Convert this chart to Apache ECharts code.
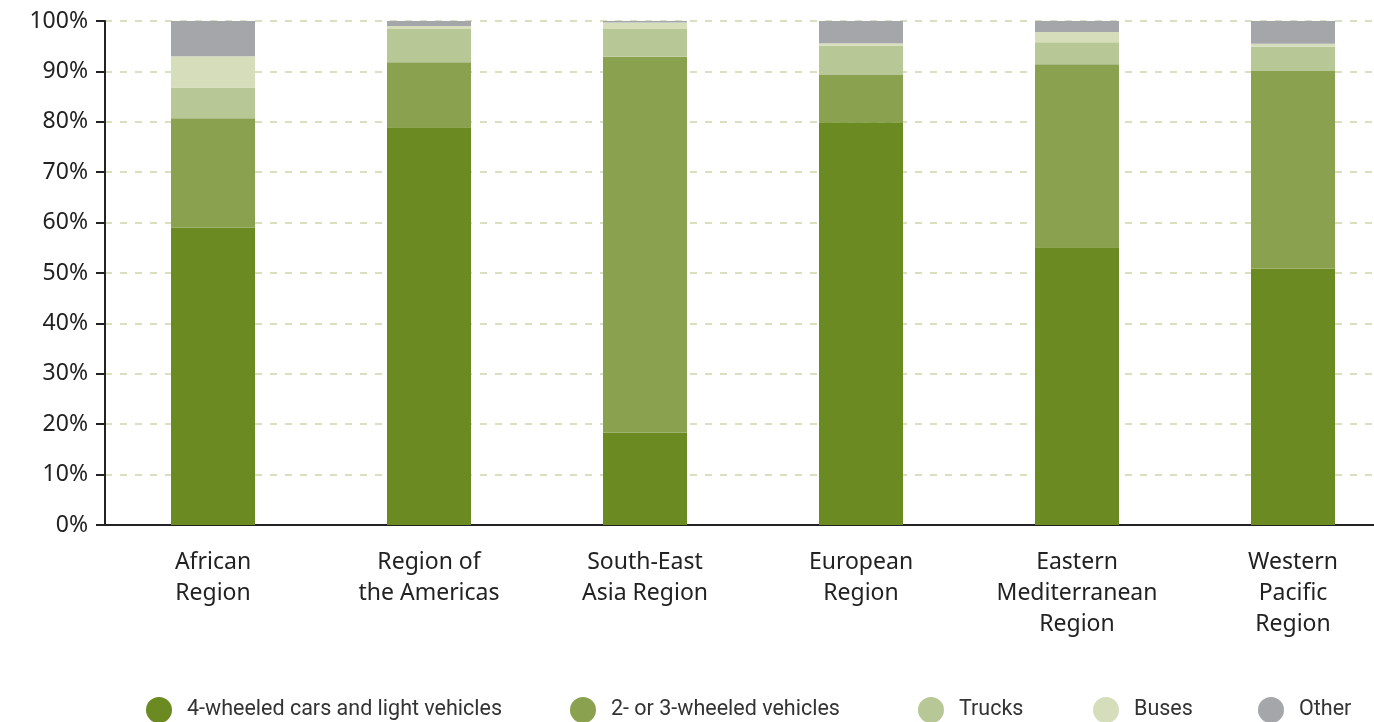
<!DOCTYPE html>
<html>
<head>
<meta charset="utf-8">
<script src="https://cdn.jsdelivr.net/npm/echarts@6/dist/echarts.min.js"></script>
<style>html,body{margin:0;padding:0;background:#fff}#c{width:1374px;height:722px}</style>
</head>
<body>
<div id="c"></div>
<script>
const categories = ["African\nRegion", "Region of\nthe Americas", "South-East\nAsia Region", "European\nRegion", "Eastern\nMediterranean\nRegion", "Western\nPacific\nRegion"];
const seriesNames = ["4-wheeled cars and light vehicles", "2- or 3-wheeled vehicles", "Trucks", "Buses", "Other"];
const fourWheeled = [59.0, 78.9, 18.3, 79.9, 55.1, 50.9];
const twoThreeWheeled = [21.7, 12.9, 74.6, 9.4, 36.3, 39.2];
const trucks = [6.1, 6.6, 5.5, 5.8, 4.4, 4.8];
const buses = [6.2, 0.6, 1.3, 0.5, 2.0, 0.6];
const other = [7.0, 1.0, 0.3, 4.4, 2.2, 4.5];
const yTicks = [0, 10, 20, 30, 40, 50, 60, 70, 80, 90, 100];

const colors = ["#6b8a22", "#8aa14f", "#b8c796", "#d5ddbb", "#a5a6a9"];
const values = [fourWheeled, twoThreeWheeled, trucks, buses, other];
const legendCenters = [154, 578, 926, 1101, 1266];

const chart = echarts.init(document.getElementById('c'));
chart.setOption({
  animation: false,
  backgroundColor: '#fff',
  grid: { left: 105, top: 21, bottom: 197, right: -27, containLabel: false, outerBoundsMode: 'none' },
  legend: seriesNames.map((n, i) => ({
    data: [n],
    left: legendCenters[i] - 13,
    top: 692,
    icon: 'circle',
    itemWidth: 26,
    itemHeight: 26,
    textStyle: { fontFamily: 'Roboto', fontSize: 21.5, color: '#333', padding: [0, 0, 0, 10] },
    selectedMode: false
  })),
  xAxis: {
    type: 'category',
    data: categories,
    axisLine: { lineStyle: { color: '#222', width: 2 } },
    axisTick: { show: false },
    axisLabel: { fontFamily: 'Noto Sans', fontSize: 23, color: '#222', lineHeight: 31, margin: 22, interval: 0 }
  },
  yAxis: {
    type: 'value',
    min: 0,
    max: 100,
    interval: 10,
    axisLine: { show: true, lineStyle: { color: '#222', width: 2 } },
    axisTick: { show: true, length: 9, lineStyle: { color: '#222', width: 2 } },
    axisLabel: { fontFamily: 'Noto Sans', fontSize: 23, color: '#222', margin: 17, formatter: v => yTicks.includes(v) ? v + '%' : '' },
    splitLine: { show: true, lineStyle: { color: '#d8e0bf', width: 2, type: [7, 8] } }
  },
  series: seriesNames.map((n, i) => ({
    name: n,
    type: 'bar',
    stack: 'total',
    barWidth: 84,
    data: values[i],
    itemStyle: { color: colors[i] }
  }))
});
</script>
</body>
</html>
